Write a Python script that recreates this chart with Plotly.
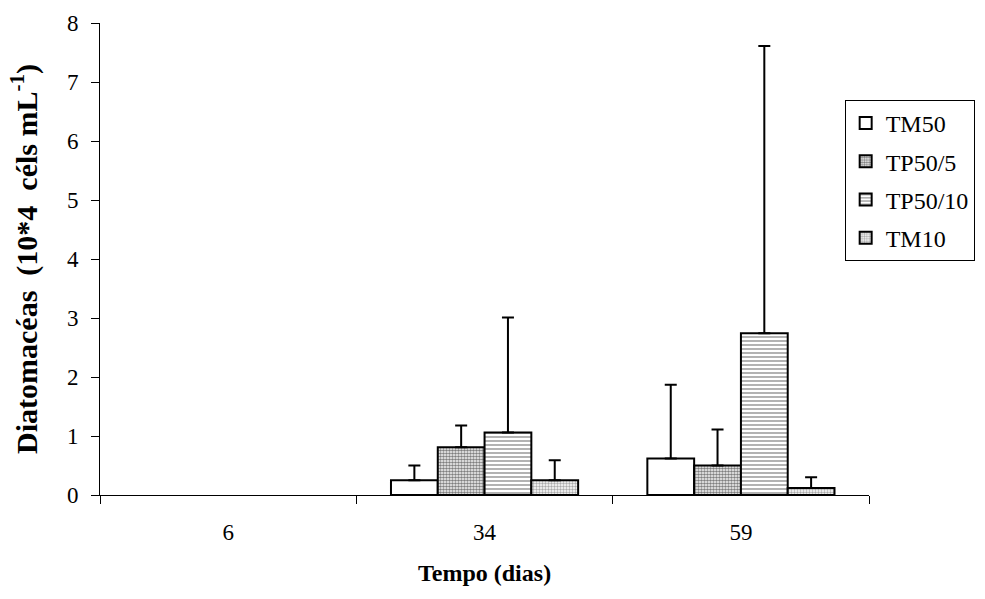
import plotly.graph_objects as go

categories = ["6", "34", "59"]
series_names = ["TM50", "TP50/5", "TP50/10", "TM10"]
tm50 = [None, 0.25, 0.62]
tp50_5 = [None, 0.81, 0.50]
tp50_10 = [None, 1.06, 2.74]
tm10 = [None, 0.25, 0.12]
tm50_err = [None, 0.25, 1.25]
tp50_5_err = [None, 0.37, 0.61]
tp50_10_err = [None, 1.95, 4.87]
tm10_err = [None, 0.34, 0.18]

values = [tm50, tp50_5, tp50_10, tm10]
errors = [tm50_err, tp50_5_err, tp50_10_err, tm10_err]
patterns = [
    dict(shape=""),
    dict(shape=".", size=3, solidity=0.6, fgcolor="black", bgcolor="white", fillmode="overlay"),
    dict(shape="-", size=4, solidity=0.3, fgcolor="black", bgcolor="white", fillmode="overlay"),
    dict(shape=".", size=3, solidity=0.5, fgcolor="#555555", bgcolor="white", fillmode="overlay"),
]

serif = "Liberation Serif, DejaVu Serif, serif"
nb = "\u00a0"

fig = go.Figure()
for i, name in enumerate(series_names):
    fig.add_trace(go.Bar(
        x=categories, y=values[i], name=name,
        marker=dict(color="white", line=dict(color="black", width=2), pattern=patterns[i]),
        error_y=dict(type="data", symmetric=False, array=errors[i],
                     arrayminus=[0] * len(categories), color="black", thickness=2, width=6),
        legendgroup=name,
    ))

fig.update_layout(
    width=985, height=599,
    margin=dict(l=100, r=10, t=23, b=104),
    paper_bgcolor="white", plot_bgcolor="white",
    barmode="group", bargap=0.27, bargroupgap=0,
    font=dict(family=serif, size=20, color="black"),
    showlegend=True,
    legend=dict(x=0.853, y=0.837, xanchor="left", yanchor="top",
                bordercolor="black", borderwidth=1, bgcolor="white",
                font=dict(family=serif, size=24), tracegroupgap=4,
                traceorder="grouped", itemwidth=30),
    xaxis=dict(
        domain=[0, 0.881],
        type="category", range=[-0.5, 2.5], tickson="boundaries",
        ticks="outside", ticklen=8, tickcolor="black", tickwidth=1,
        ticklabelstandoff=16,
        showline=True, linecolor="black", linewidth=1,
        showgrid=False, zeroline=False,
        tickfont=dict(family=serif, size=23),
        title=dict(text="<b>Tempo (dias)</b>", font=dict(family=serif, size=24), standoff=20),
    ),
    yaxis=dict(
        range=[0, 8], dtick=1, ticks="outside", ticklen=8, tickcolor="black", tickwidth=1,
        ticklabelstandoff=8,
        showline=True, linecolor="black", linewidth=1,
        showgrid=False, zeroline=False,
        tickfont=dict(family=serif, size=23),
        title=dict(text=f"<b>Diatomacéas {nb}(10*4 {nb}céls mL<sup>-1</sup>)</b>",
                   font=dict(family=serif, size=30), standoff=20),
    ),
)

fig.write_html("out.html")
